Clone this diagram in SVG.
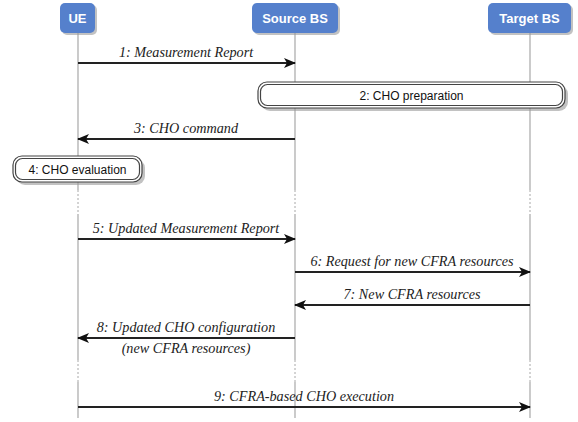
<svg xmlns="http://www.w3.org/2000/svg" width="578" height="422" viewBox="0 0 578 422">
<style>
.hdr{fill:#5580cc;}
.hdrt{font-family:"Liberation Sans",Arial,sans-serif;font-weight:bold;font-size:13px;fill:#fff;text-anchor:middle;}
.life{stroke:#a8a8a8;stroke-width:1.2;fill:none;}
.dot{stroke:#a8a8a8;stroke-width:1;stroke-dasharray:2 2;fill:none;}
.msg{stroke:#222;stroke-width:1.8;fill:none;}
.lbl{font-family:"Liberation Serif","Times New Roman",serif;font-style:italic;font-size:14.2px;fill:#222;text-anchor:middle;}
.box{fill:#fff;stroke:#444;stroke-width:1.2;}
.boxt{font-family:"Liberation Sans",Arial,sans-serif;font-size:12px;fill:#111;text-anchor:middle;}
.shadow{fill:#999;opacity:0.6;}
</style>
<defs>
<marker id="ah" viewBox="0 0 12 10" refX="11" refY="5" markerWidth="12" markerHeight="10" markerUnits="userSpaceOnUse" orient="auto-start-reverse">
<path d="M0,0 L12,5 L0,10 L3,5 Z" fill="#111"/>
</marker>
</defs>
<g id="lifelines">
<path class="life" d="M78,33 V190 M78,214 V360 M78,382 V418"/>
<path class="dot" d="M78,190 V214 M78,360 V382"/>
<path class="life" d="M295,33 V190 M295,214 V360 M295,382 V418"/>
<path class="dot" d="M295,190 V214 M295,360 V382"/>
<path class="life" d="M530,33 V190 M530,214 V360 M530,382 V418"/>
<path class="dot" d="M530,190 V214 M530,360 V382"/>
</g>
<g id="UE">
<rect class="shadow" x="62" y="5" width="35" height="30" rx="5"/>
<rect class="hdr" x="60" y="3" width="35" height="30" rx="5"/>
<text class="hdrt" x="77.5" y="23">UE</text>
</g>
<g id="SourceBS">
<rect class="shadow" x="254" y="5" width="86" height="30" rx="5"/>
<rect class="hdr" x="252" y="3" width="86" height="30" rx="5"/>
<text class="hdrt" x="295" y="23">Source BS</text>
</g>
<g id="TargetBS">
<rect class="shadow" x="490" y="5" width="83" height="30" rx="5"/>
<rect class="hdr" x="488" y="3" width="83" height="30" rx="5"/>
<text class="hdrt" x="529.5" y="23">Target BS</text>
</g>
<g id="CHOpreparation">
<rect class="shadow" x="261" y="85" width="307" height="26" rx="9"/>
<rect class="box" x="258" y="82" width="307" height="26" rx="9"/>
<rect class="box" x="260.5" y="84.5" width="302" height="21" rx="7" stroke-width="0.8"/>
<text class="boxt" x="411.5" y="99.5">2: CHO preparation</text>
</g>
<g id="CHOevaluation">
<rect class="shadow" x="16" y="159" width="129" height="26" rx="9"/>
<rect class="box" x="13" y="156" width="129" height="26" rx="9"/>
<rect class="box" x="15.5" y="158.5" width="124" height="21" rx="7" stroke-width="0.8"/>
<text class="boxt" x="77.5" y="173.5">4: CHO evaluation</text>
</g>
<g id="connectors">
<line class="msg" x1="78" y1="63" x2="295" y2="63" marker-end="url(#ah)"/>
<text class="lbl" x="186" y="57">1: Measurement Report</text>
<line class="msg" x1="295" y1="139" x2="78" y2="139" marker-end="url(#ah)"/>
<text class="lbl" x="186" y="133">3: CHO command</text>
<line class="msg" x1="78" y1="239" x2="295" y2="239" marker-end="url(#ah)"/>
<text class="lbl" x="186" y="233">5: Updated Measurement Report</text>
<line class="msg" x1="295" y1="272" x2="530" y2="272" marker-end="url(#ah)"/>
<text class="lbl" x="412" y="266">6: Request for new CFRA resources</text>
<line class="msg" x1="530" y1="305" x2="295" y2="305" marker-end="url(#ah)"/>
<text class="lbl" x="412" y="299">7: New CFRA resources</text>
<line class="msg" x1="295" y1="338" x2="78" y2="338" marker-end="url(#ah)"/>
<text class="lbl" x="186" y="332">8: Updated CHO configuration</text>
<text class="lbl" x="186" y="353">(new CFRA resources)</text>
<line class="msg" x1="78" y1="407" x2="530" y2="407" marker-end="url(#ah)"/>
<text class="lbl" x="304" y="401">9: CFRA-based CHO execution</text>
</g>
</svg>
